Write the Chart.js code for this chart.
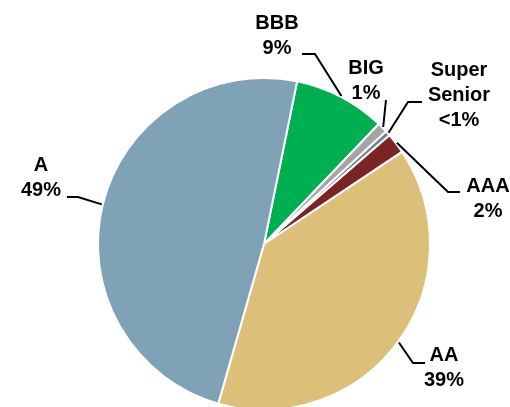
<!DOCTYPE html>
<html>
<head>
<meta charset="utf-8">
<script src="https://cdn.jsdelivr.net/npm/chart.js@4"></script>
<style>
  html, body { margin: 0; padding: 0; background: #fff; overflow: hidden; }
  #wrap { width: 510px; height: 407px; overflow: hidden; }
  canvas { display: block; }
</style>
</head>
<body>
<div id="wrap"><canvas id="myChart" width="510" height="420"></canvas></div>
<script>
// rating mix, clockwise from the top
const categories = ['BBB', 'BIG', 'Super Senior', 'AAA', 'AA', 'A'];
const shares = [9, 1, 0.5, 2, 39, 49];
const shareText = ['9%', '1%', '<1%', '2%', '39%', '49%'];
const sliceColors = ['#00b050', '#a5a5a5', '#6f7f8c', '#7b2426', '#dcbf78', '#7fa2b6'];

// where each callout sits: text lines, text centre x, first line y, leader bend points
const callouts = [
  { lines: ['BBB'], x: 277, y: 23, path: [[315, 54], [302, 54]] },
  { lines: ['BIG'], x: 366, y: 68, path: [[386, 100]] },
  { lines: ['Super', 'Senior'], x: 459, y: 70, path: [[408, 102], [422, 102]] },
  { lines: ['AAA'], x: 488, y: 186, path: [[448, 192], [460, 192]] },
  { lines: ['AA'], x: 444, y: 355, path: [[413, 363], [425, 363]] },
  { lines: ['A'], x: 41, y: 165, path: [[78, 197], [67, 197]] }
];

const calloutPlugin = {
  id: 'callouts',
  afterDraw(chart) {
    const ctx = chart.ctx;
    const arcs = chart.getDatasetMeta(0).data;
    ctx.save();
    ctx.strokeStyle = '#000';
    ctx.lineWidth = 2;
    ctx.lineJoin = 'miter';
    arcs.forEach((arc, i) => {
      const c = callouts[i];
      const mid = (arc.startAngle + arc.endAngle) / 2;
      const r = arc.outerRadius + 1;
      ctx.beginPath();
      ctx.moveTo(arc.x + Math.cos(mid) * r, arc.y + Math.sin(mid) * r);
      c.path.forEach(p => ctx.lineTo(p[0], p[1]));
      ctx.stroke();

      ctx.fillStyle = '#000';
      ctx.font = 'bold 20px "Liberation Sans", Arial, sans-serif';
      ctx.textAlign = 'center';
      ctx.textBaseline = 'middle';
      const rows = c.lines.concat([shareText[i]]);
      rows.forEach((t, k) => ctx.fillText(t, c.x, c.y + k * 25));
    });
    ctx.restore();
  }
};

const chart = document.querySelector('#myChart');
const myChart = new Chart(chart, {
  type: 'pie',
  data: {
    labels: categories,
    datasets: [{
      data: shares,
      backgroundColor: sliceColors,
      borderColor: '#ffffff',
      borderWidth: 2
    }]
  },
  options: {
    responsive: false,
    animation: false,
    devicePixelRatio: 1,
    rotation: 11.5,
    layout: { padding: { left: 97, right: 79, top: 77, bottom: 9 } },
    plugins: {
      legend: { display: false },
      tooltip: { enabled: false }
    }
  },
  plugins: [calloutPlugin]
});
</script>
</body>
</html>
